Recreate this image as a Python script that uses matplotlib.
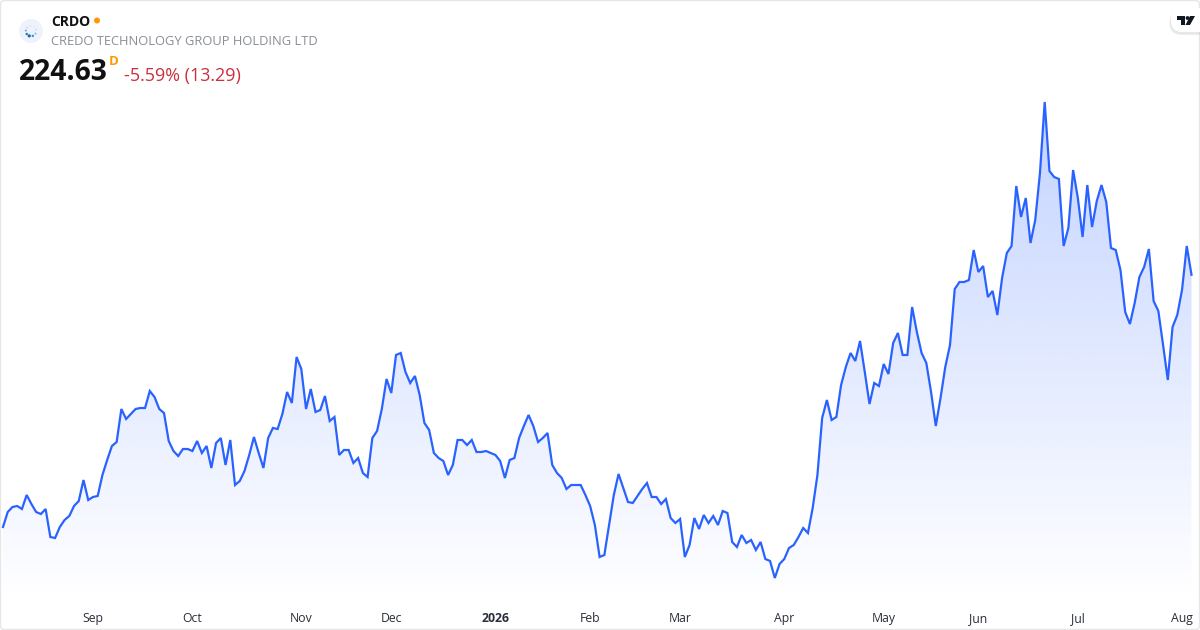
import numpy as np
import matplotlib
matplotlib.use('Agg')
import matplotlib.pyplot as plt
from matplotlib.patches import Circle, FancyBboxPatch, Polygon
from matplotlib.colors import to_rgb
import matplotlib.patheffects as pe

plt.rcParams['font.family'] = ['Open Sans', 'DejaVu Sans']

# daily close
prices = [
    98.5, 106, 108.5, 109, 107.5, 114.5, 110, 106, 105, 107.5, 93.5, 93, 98.5, 102, 104, 109, 111.5, 122, 112, 113.5,
    114, 124.5, 132, 139, 141, 157.5, 152.5, 155, 157.5, 158, 158, 166.5, 163.5, 157.5, 155.5, 141.5, 136.5, 134, 137.5, 137.5,
    136.5, 141.5, 135.5, 139, 128, 140.5, 143, 129.5, 142, 119.5, 121.5, 126.5, 134.5, 143.5, 135.5, 128, 143, 148, 147.5, 155,
    166, 160.5, 183.5,
    177.5, 157.5, 167.5, 156, 157, 164, 151.5, 153.5, 134.5, 137, 137, 130.5, 133, 125.5, 123.5, 143, 146.5, 157.5, 172.5, 165.5,
    184.5, 185.5, 176, 170.5, 174, 164.5, 150.5, 147, 135.5, 133, 131.5, 124.5, 129.5, 142, 142, 139.5, 142, 136, 136, 136.5,
    135.5, 134.5, 131.5, 123, 132, 133, 143, 149, 154.5, 149, 141, 143, 145.5, 129.5, 125.5, 123, 117.5, 119.5, 119.5, 119.5,
    114.5, 109, 99.5, 83.5,
    84.5, 99.5, 114.5, 125, 118, 111, 110.5, 114, 117.5, 120.5, 113.5, 113.5, 110, 112.5, 103, 100.5, 102.5, 83.5, 89.5, 103,
    97.5, 104.5, 100.5, 104, 99.5, 106.5, 105.5, 91, 88.5, 94.5, 90.5, 92, 87, 91, 82.5, 81.5, 73, 80, 82.5, 88,
    89.5, 93.5, 98, 95.5, 108, 124.5, 153, 162, 152, 153.5,
    169.5, 178.5, 185.5, 181.5, 191.5, 176, 160, 170.5, 169, 180, 175, 190.5, 195.5, 184.5, 184.5, 208.5, 196, 185.5, 180.5, 166,
    149, 163, 178.5, 189.5,
    217.5, 221, 221, 222, 237, 226, 229, 213.5, 216.5, 204.5, 223, 235.5, 239, 269, 253.5, 263, 240.5, 252, 275.5, 311,
    276.5, 273.5, 272.5, 239, 248, 277, 263, 243.5, 269.5, 248.5, 261.5, 269.5, 261, 238, 237, 227, 206, 200, 210.5, 223.5,
    228.5, 237.5, 211.5, 206.5, 189.5, 172, 198.5, 204.5, 217, 239, 224.63,
]
month_idx = [19, 40, 63, 82, 104, 124, 143, 165, 186, 206, 227, 249]
month_labels = ['Sep', 'Oct', 'Nov', 'Dec', '2026', 'Feb', 'Mar', 'Apr', 'May', 'Jun', 'Jul', 'Aug']

symbol = 'CRDO'
company = 'CREDO TECHNOLOGY GROUP HOLDING LTD'
last_price = '224.63'
change = '-5.59% (13.29)'

W, H = 1200, 630
BLUE = '#2962ff'
STEP = 4.735   # px per trading day
X0 = 3

fig = plt.figure(figsize=(W / 100, H / 100), dpi=100, facecolor='white')
ax = fig.add_axes([0, 0, 1, 1])
ax.set_xlim(-X0 / STEP, (W - X0) / STEP)
ax.set_ylim(47, 362)
ax.patch.set_alpha(0)
for s in ax.spines.values():
    s.set_visible(False)
ax.set_yticks([])

x = np.arange(len(prices))
y = np.array(prices)

# gradient under the line
rgb = to_rgb(BLUE)
grad = np.zeros((256, 1, 4))
grad[..., 0], grad[..., 1], grad[..., 2] = rgb
grad[..., 3] = np.linspace(0.28, 0.0, 256)[:, None]
poly = ax.fill_between(x, y, 47, color='none', lw=0)
im = ax.imshow(grad, extent=[x[0], x[-1], 62, y.max()], aspect='auto', origin='upper', zorder=1)
im.set_clip_path(poly.get_paths()[0], ax.transData)
ax.set_xlim(-X0 / STEP, (W - X0) / STEP)
ax.set_ylim(47, 362)

ax.plot(x, y, color=BLUE, lw=1.6, solid_joinstyle='miter', zorder=2)

ax.set_xticks(month_idx)
ax.set_xticklabels(month_labels, fontsize=8.8, color='#2a2e39')
ax.tick_params(axis='x', length=0, pad=-13, direction='in')
ax.get_xticklabels()[4].set_fontweight('bold')

# header, logo and frame go on a pixel-sized overlay
ov = fig.add_axes([0, 0, 1, 1])
ov.set_xlim(0, W)
ov.set_ylim(H, 0)
ov.axis('off')
ov.patch.set_alpha(0)

ov.add_patch(FancyBboxPatch((0.5, 0.5), W - 1, H - 1, boxstyle='round,pad=0,rounding_size=4',
                            fc='none', ec='#e6e6e8', lw=1))

ov.add_patch(Circle((31, 31), 12, fc='#eef2fb', ec='none'))
angles = [100, 140, 175, 215, 250, 290, 330, 15, 55]
sizes = [0.6, 0.7, 0.9, 1.2, 1.6, 1.2, 1.0, 0.7, 0.5]
shades = ['#b8cfe8', '#a9c6e6', '#5c9bd6', '#1f77c0', '#0f6cb8', '#3e8ccd', '#84b4de', '#b8cfe8', '#c9daee']
for a, r, c in zip(angles, sizes, shades):
    ov.add_patch(Circle((31 + 5.2 * np.cos(np.radians(a)), 31 - 5.2 * np.sin(np.radians(a))), r, fc=c, ec='none'))

ov.text(51, 21.5, symbol, fontsize=10, fontweight='bold', color='#111111', va='center', ha='left')
ov.add_patch(Circle((97, 20.5), 3, fc='#ff9800', ec='none'))
ov.text(51, 41.5, company, fontsize=9.26, color='#8a8d96', va='center', ha='left')
ov.text(19, 72, last_price, fontsize=20.3, fontweight='bold', color='#111111', va='center', ha='left')
ov.text(109, 61.5, 'D', fontsize=9.5, fontweight='bold', color='#ff9800', va='center', ha='left')
ov.text(124, 75.5, change, fontsize=12.9, color='#cc2f3c', va='center', ha='left')

# tradingview badge
badge = FancyBboxPatch((1171, 8), 41, 24, boxstyle='round,pad=0,rounding_size=12', fc='white', ec='none', zorder=4,
                       path_effects=[pe.withSimplePatchShadow(offset=(-1, -2), shadow_rgbFace='#b9bcc6', alpha=0.35), pe.Normal()])
ov.add_patch(badge)
ov.add_patch(Polygon([(1177, 16), (1185, 16), (1185, 25), (1181, 25), (1181, 20), (1177, 20)], fc='#131722', ec='none', zorder=5))
ov.add_patch(Circle((1187.5, 18), 1.9, fc='#131722', ec='none', zorder=5))
ov.add_patch(Polygon([(1190, 16), (1195, 16), (1190, 25), (1185.5, 25)], fc='#131722', ec='none', zorder=5))
ov.set_xlim(0, W)
ov.set_ylim(H, 0)

fig.savefig('out.png', dpi=100)
